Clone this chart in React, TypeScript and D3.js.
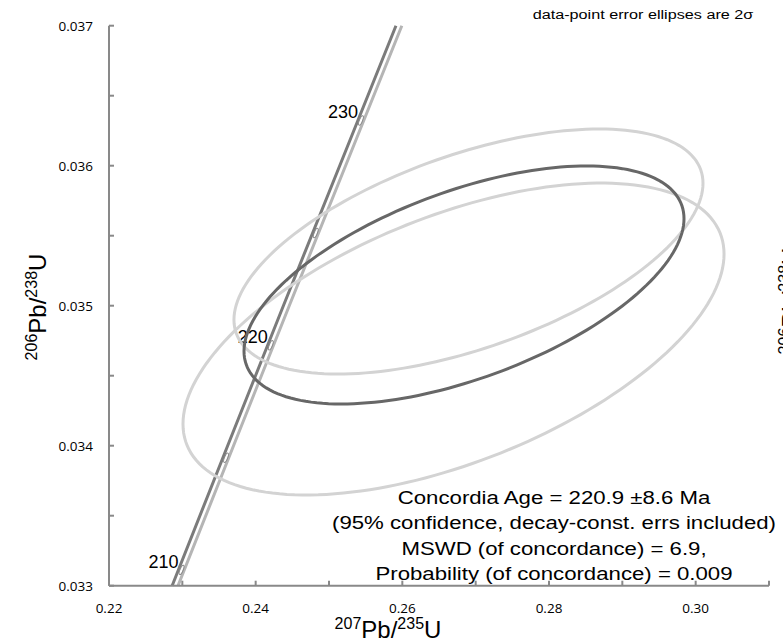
import * as d3 from 'd3'
import { useEffect, useRef } from 'react'

// concordia band at each 206Pb/238U grid value
const concordiaY = [0.033, 0.034, 0.035, 0.036, 0.037]
const concordiaLowX = [0.22861, 0.23618, 0.24378, 0.25146, 0.25913]
const concordiaHighX = [0.22941, 0.23698, 0.24458, 0.25226, 0.25993]

// age markers on the concordia (Ma)
const markerAges = [210, 215, 220, 225, 230]
const markerX = [0.22976, 0.23583, 0.24193, 0.24806, 0.25422]
const markerY = [0.033113, 0.033914, 0.034717, 0.035519, 0.036323]
const labelAges = [210, 220, 230]

// error ellipses (2 sigma half-extents)
const ellipseKind = ['light', 'light', 'dark']
const ellipseX = [0.26902, 0.26698, 0.26841]
const ellipseY = [0.035387, 0.034762, 0.035148]
const ellipseErrX = [0.03198, 0.03689, 0.03]
const ellipseErrY = [0.000875, 0.001114, 0.00085]
const ellipseRho = [0.557, 0.545, 0.557]

const xTicks = [0.22, 0.23, 0.24, 0.25, 0.26, 0.27, 0.28, 0.29, 0.3, 0.31]
const xTickLabels = ['0.22', '', '0.24', '', '0.26', '', '0.28', '', '0.30', '']
const yTicks = [0.033, 0.0335, 0.034, 0.0345, 0.035, 0.0355, 0.036, 0.0365, 0.037]
const yTickLabels = ['0.033', '', '0.034', '', '0.035', '', '0.036', '', '0.037']

const resultLines = [
  'Concordia Age = 220.9 \u00b18.6 Ma',
  '(95% confidence, decay-const. errs included)',
  'MSWD (of concordance) = 6.9,',
  'Probability (of concordance) = 0.009',
]

const W = 783
const H = 642

const App = () => {
  const ref = useRef<SVGSVGElement>(null)

  useEffect(() => {
    const svg = d3.select(ref.current)
    svg.selectAll('*').remove()

    const x = d3.scaleLinear().domain([0.22, 0.31]).range([109, 769])
    const y = d3.scaleLinear().domain([0.033, 0.037]).range([585.7, 25.7])

    const line = d3
      .line<[number, number]>()
      .x((d) => x(d[0]))
      .y((d) => y(d[1]))

    // concordia band
    const bands: [number[], string][] = [
      [concordiaLowX, '#7b7b7b'],
      [concordiaHighX, '#b5b5b5'],
    ]
    bands.forEach(([xs, color]) => {
      svg
        .append('path')
        .attr('d', line(xs.map((v, i) => [v, concordiaY[i]] as [number, number])))
        .attr('fill', 'none')
        .attr('stroke', color)
        .attr('stroke-width', 3)
    })

    // age markers
    const angle =
      (Math.atan2(
        y(concordiaY[4]) - y(concordiaY[0]),
        x(concordiaLowX[4]) - x(concordiaLowX[0])
      ) *
        180) /
      Math.PI
    markerAges.forEach((age, i) => {
      svg
        .append('ellipse')
        .attr('transform', `translate(${x(markerX[i]) + 1},${y(markerY[i])}) rotate(${angle})`)
        .attr('rx', 5)
        .attr('ry', 1.6)
        .attr('fill', 'none')
        .attr('stroke', '#8a8a8a')
        .attr('stroke-width', 1)
      if (labelAges.includes(age)) {
        svg
          .append('text')
          .attr('x', x(markerX[i]) - 2)
          .attr('y', y(markerY[i]) - 2)
          .attr('text-anchor', 'end')
          .attr('font-family', 'Liberation Sans, Arial, sans-serif')
          .attr('font-size', 18)
          .attr('fill', '#000')
          .text(age)
      }
    })

    // error ellipses
    const steps = d3.range(0, 181).map((k) => (k / 180) * Math.PI * 2)
    const order = [0, 1, 2]
    order.forEach((i) => {
      const pts = steps.map((t) => {
        const px = ellipseX[i] + ellipseErrX[i] * Math.cos(t)
        const py =
          ellipseY[i] +
          ellipseErrY[i] *
            (ellipseRho[i] * Math.cos(t) + Math.sqrt(1 - ellipseRho[i] ** 2) * Math.sin(t))
        return [px, py] as [number, number]
      })
      svg
        .append('path')
        .attr('d', line(pts))
        .attr('fill', 'none')
        .attr('stroke', ellipseKind[i] === 'dark' ? '#676767' : '#d3d3d3')
        .attr('stroke-width', 3)
    })

    // axes
    const axisColor = '#898989'
    svg
      .append('line')
      .attr('x1', x(0.22))
      .attr('x2', x(0.31))
      .attr('y1', y(0.033))
      .attr('y2', y(0.033))
      .attr('stroke', axisColor)
      .attr('stroke-width', 2)
    svg
      .append('line')
      .attr('x1', x(0.22))
      .attr('x2', x(0.22))
      .attr('y1', y(0.033))
      .attr('y2', y(0.037))
      .attr('stroke', axisColor)
      .attr('stroke-width', 2)

    xTicks.forEach((v, i) => {
      svg
        .append('line')
        .attr('x1', x(v))
        .attr('x2', x(v))
        .attr('y1', y(0.033))
        .attr('y2', y(0.033) - 5)
        .attr('stroke', axisColor)
        .attr('stroke-width', 2)
      if (xTickLabels[i])
        svg
          .append('text')
          .attr('x', x(v))
          .attr('y', 613)
          .attr('text-anchor', 'middle')
          .attr('font-family', 'Open Sans, sans-serif')
          .attr('font-size', 13.5)
          .attr('fill', '#000')
          .text(xTickLabels[i])
    })

    yTicks.forEach((v, i) => {
      svg
        .append('line')
        .attr('x1', x(0.22))
        .attr('x2', x(0.22) + 5)
        .attr('y1', y(v))
        .attr('y2', y(v))
        .attr('stroke', axisColor)
        .attr('stroke-width', 2)
      if (yTickLabels[i])
        svg
          .append('text')
          .attr('x', 93)
          .attr('y', y(v))
          .attr('dy', '0.36em')
          .attr('text-anchor', 'end')
          .attr('font-family', 'Open Sans, sans-serif')
          .attr('font-size', 13.5)
          .attr('fill', '#000')
          .text(yTickLabels[i])
    })

    // axis titles with superscript isotopes
    const ratioLabel = (
      g: d3.Selection<SVGTextElement, unknown, null, undefined>,
      top: string,
      bottom: string
    ) => {
      g.append('tspan').attr('font-size', 16).attr('dy', -9).text(top)
      g.append('tspan').attr('dy', 9).text('Pb/')
      g.append('tspan').attr('font-size', 16).attr('dy', -9).text(bottom)
      g.append('tspan').attr('dy', 9).text('U')
    }

    const xt = svg
      .append('text')
      .attr('x', 388)
      .attr('y', 638)
      .attr('text-anchor', 'middle')
      .attr('font-family', 'Liberation Sans, Arial, sans-serif')
      .attr('font-size', 24)
      .attr('fill', '#000')
    ratioLabel(xt as any, '207', '235')

    const yt = svg
      .append('text')
      .attr('transform', 'translate(46,307) rotate(-90)')
      .attr('text-anchor', 'middle')
      .attr('font-family', 'Liberation Sans, Arial, sans-serif')
      .attr('font-size', 24)
      .attr('fill', '#000')
    ratioLabel(yt as any, '206', '238')

    // neighbouring panel's title, cut by the right edge
    const yt2 = svg
      .append('text')
      .attr('transform', 'translate(799,301) rotate(-90)')
      .attr('text-anchor', 'middle')
      .attr('font-family', 'Liberation Sans, Arial, sans-serif')
      .attr('font-size', 24)
      .attr('fill', '#000')
    ratioLabel(yt2 as any, '206', '238')

    // the picture's text is a little wider than Arial, so stretch it horizontally
    svg
      .append('text')
      .attr('transform', 'translate(643,19) scale(1.2,1)')
      .attr('text-anchor', 'middle')
      .attr('font-family', 'Liberation Sans, Arial, sans-serif')
      .attr('font-size', 13.5)
      .attr('fill', '#000')
      .text('data-point error ellipses are 2\u03c3')

    resultLines.forEach((t, i) => {
      svg
        .append('text')
        .attr('transform', `translate(554,${504 + i * 25.3}) scale(1.2,1)`)
        .attr('text-anchor', 'middle')
        .attr('font-family', 'Liberation Sans, Arial, sans-serif')
        .attr('font-size', 18.5)
        .attr('fill', '#000')
        .text(t)
    })
  }, [])

  return (
    <svg
      ref={ref}
      width={W}
      height={H}
      style={{ position: 'absolute', left: 0, top: 0, background: '#fff' }}
    />
  )
}

export default App
